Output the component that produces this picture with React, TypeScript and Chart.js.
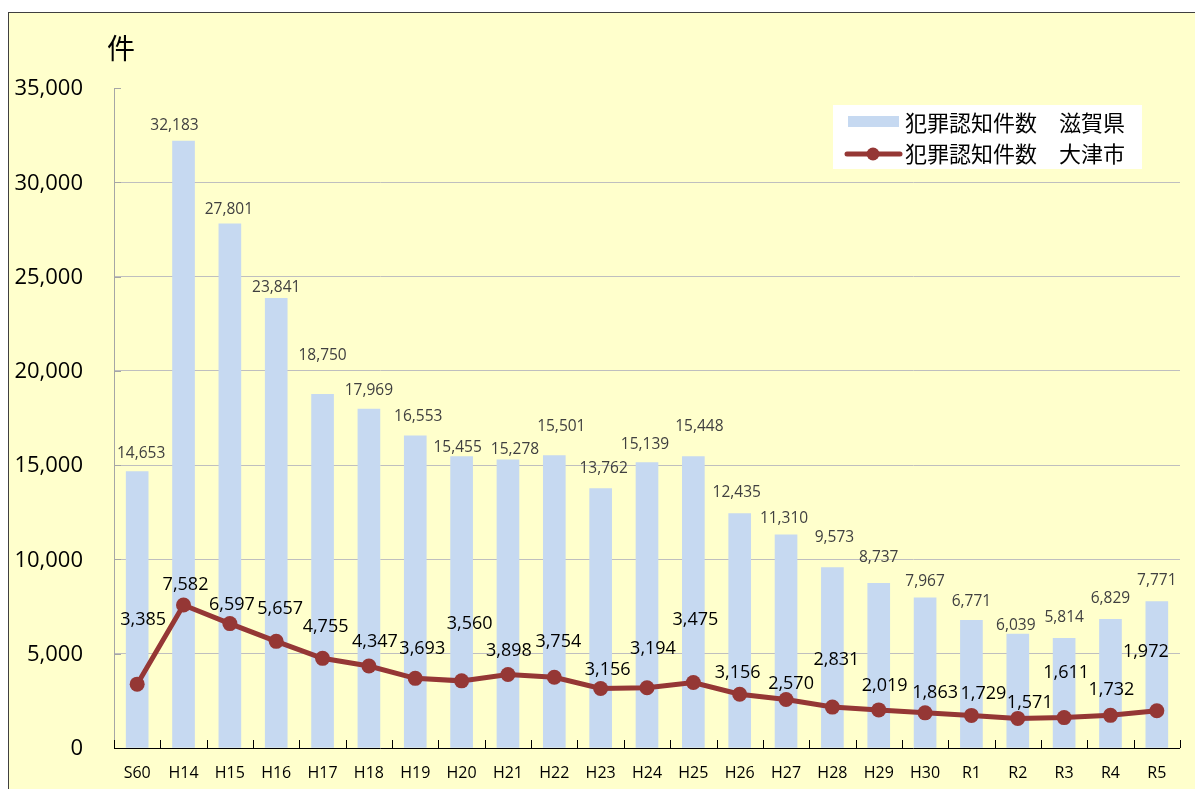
import React, { useEffect, useRef } from "react";
import { Chart, registerables } from "chart.js";
Chart.register(...registerables);

const categories = ["S60", "H14", "H15", "H16", "H17", "H18", "H19", "H20", "H21", "H22", "H23", "H24", "H25", "H26", "H27", "H28", "H29", "H30", "R1", "R2", "R3", "R4", "R5"];
const shigaValues = [14653, 32183, 27801, 23841, 18750, 17969, 16553, 15455, 15278, 15501, 13762, 15139, 15448, 12435, 11310, 9573, 8737, 7967, 6771, 6039, 5814, 6829, 7771];
const otsuValues = [3385, 7582, 6597, 5657, 4755, 4347, 3693, 3560, 3898, 3754, 3156, 3194, 3475, 2850, 2570, 2170, 2019, 1863, 1729, 1571, 1611, 1732, 1972];
const otsuLabelValues = [3385, 7582, 6597, 5657, 4755, 4347, 3693, 3560, 3898, 3754, 3156, 3194, 3475, 3156, 2570, 2831, 2019, 1863, 1729, 1571, 1611, 1732, 1972];
const yTicks = [0, 5000, 10000, 15000, 20000, 25000, 30000, 35000];
const shigaName = "犯罪認知件数　滋賀県";
const otsuName = "犯罪認知件数　大津市";
const unitLabel = "件";

// label placement offsets (px) relative to bar top / point
const barLabelOffsets = [[4, -19], [-9, -17], [-1, -15], [0, -12], [0, -40], [0, -20], [3, -20], [-4, -10], [7, -11], [7, -30], [3, -21], [-2, -19], [6, -31], [-3, -22], [-2, -17], [2, -31], [0, -27], [0, -17], [0, -20], [-2, -10], [0, -22], [0, -22], [0, -22]];
const lineLabelOffsets = [[6, -65], [2, -21], [2, -20], [4, -33], [3, -32], [6, -25], [7, -30], [8, -58], [1, -25], [4, -36], [7, -20], [6, -40], [2, -64], [-2, -22], [5, -17], [4, -48], [6, -25], [10, -21], [12, -23], [12, -17], [2, -46], [1, -26], [-11, -60]];

const BAR_COLOR = "#C6D9F1";
const LINE_COLOR = "#953735";
const NUM_FONT = "'Open Sans', 'Noto Sans', sans-serif";
const CJK_FONT = "'Noto Sans CJK JP', sans-serif";

const fmt = (v: number) => v.toLocaleString("en-US");

const decorPlugin = {
  id: "decor",
  afterDatasetsDraw(chart: any) {
    const { ctx, chartArea } = chart;
    const { left, right, top, bottom } = chartArea;
    const y = chart.scales.y;
    const x = chart.scales.x;
    ctx.save();
    ctx.lineWidth = 1;
    ctx.strokeStyle = "#A6A6A6";
    ctx.beginPath();
    ctx.moveTo(left + 0.5, top);
    ctx.lineTo(left + 0.5, bottom);
    yTicks.forEach((v) => {
      const py = Math.round(y.getPixelForValue(v)) + 0.5;
      ctx.moveTo(left, py);
      ctx.lineTo(left + 7, py);
    });
    ctx.stroke();
    ctx.strokeStyle = "#000000";
    ctx.beginPath();
    ctx.moveTo(left, Math.round(bottom) + 0.5);
    ctx.lineTo(right, Math.round(bottom) + 0.5);
    const n = categories.length;
    for (let i = 0; i <= n; i++) {
      let px: number;
      if (i === 0) px = left;
      else if (i === n) px = right;
      else px = (x.getPixelForValue(i - 1) + x.getPixelForValue(i)) / 2;
      px = Math.round(px) + 0.5;
      ctx.moveTo(px, bottom);
      ctx.lineTo(px, bottom - 8);
    }
    ctx.stroke();
    ctx.restore();
  },
  afterDraw(chart: any) {
    const { ctx, chartArea } = chart;
    const { left, top, bottom } = chartArea;
    const y = chart.scales.y;
    const x = chart.scales.x;
    ctx.save();
    // y tick labels
    ctx.fillStyle = "#000";
    ctx.font = `22px ${NUM_FONT}`;
    ctx.textAlign = "right";
    ctx.textBaseline = "middle";
    yTicks.forEach((v) => {
      ctx.fillText(fmt(v), left - 31, y.getPixelForValue(v) + 1);
    });
    // x labels
    ctx.font = `16px ${NUM_FONT}`;
    ctx.textAlign = "center";
    categories.forEach((c, i) => {
      ctx.fillText(c, x.getPixelForValue(i), bottom + 25);
    });
    // unit
    ctx.font = `28px ${CJK_FONT}`;
    ctx.fillText(unitLabel, left + 7, top - 40);
    // bar labels
    const barMeta = chart.getDatasetMeta(0);
    ctx.font = `15.5px ${NUM_FONT}`;
    ctx.fillStyle = "#404040";
    barMeta.data.forEach((el: any, i: number) => {
      const [dx, dy] = barLabelOffsets[i];
      ctx.fillText(fmt(shigaValues[i]), el.x + dx, el.y + dy + 1);
    });
    // line labels
    const lineMeta = chart.getDatasetMeta(1);
    ctx.font = `18px ${NUM_FONT}`;
    ctx.fillStyle = "#000";
    lineMeta.data.forEach((el: any, i: number) => {
      const [dx, dy] = lineLabelOffsets[i];
      ctx.fillText(fmt(otsuLabelValues[i]), el.x + dx, el.y + dy + 1);
    });
    // legend
    const lx = 824, ly = 92, lw = 309, lh = 64;
    ctx.fillStyle = "#FFFFFF";
    ctx.fillRect(lx, ly, lw, lh);
    ctx.fillStyle = BAR_COLOR;
    ctx.fillRect(839, 103, 51, 11);
    ctx.strokeStyle = LINE_COLOR;
    ctx.lineWidth = 5;
    ctx.lineCap = "round";
    ctx.beginPath();
    ctx.moveTo(838, 141);
    ctx.lineTo(891, 141);
    ctx.stroke();
    ctx.fillStyle = LINE_COLOR;
    ctx.beginPath();
    ctx.arc(864, 141, 6.5, 0, Math.PI * 2);
    ctx.fill();
    ctx.fillStyle = "#000";
    ctx.font = `22px ${CJK_FONT}`;
    ctx.textAlign = "left";
    ctx.fillText(shigaName, 896, 110);
    ctx.fillText(otsuName, 896, 141);
    ctx.restore();
  },
};

export default function App() {
  const ref = useRef<HTMLCanvasElement | null>(null);
  useEffect(() => {
    if (!ref.current) return;
    const chart = new Chart(ref.current, {
      type: "bar",
      data: {
        labels: categories,
        datasets: [
          {
            type: "bar",
            label: shigaName,
            data: shigaValues,
            backgroundColor: BAR_COLOR,
            borderWidth: 0,
            barThickness: 22,
            order: 2,
          },
          {
            type: "line",
            label: otsuName,
            data: otsuValues,
            borderColor: LINE_COLOR,
            backgroundColor: LINE_COLOR,
            borderWidth: 5,
            pointRadius: 7.5,
            pointBackgroundColor: LINE_COLOR,
            pointBorderWidth: 0,
            tension: 0,
            order: 1,
          } as any,
        ],
      },
      options: {
        responsive: false,
        animation: false,
        devicePixelRatio: 1,
        layout: { padding: { left: 105, top: 75, right: 23, bottom: 45 } },
        plugins: { legend: { display: false }, tooltip: { enabled: false } },
        scales: {
          x: {
            type: "category",
            offset: true,
            grid: { display: false, drawTicks: false },
            border: { display: false },
            ticks: { display: false },
          },
          y: {
            min: 0,
            max: 35000,
            ticks: { display: false, stepSize: 5000 },
            grid: {
              drawTicks: false,
              color: (c: any) => (c.tick && c.tick.value === 35000 ? "rgba(0,0,0,0)" : "#BFBFBF"),
              lineWidth: 1,
            },
            border: { display: false },
          },
        },
      },
      plugins: [decorPlugin],
    });
    return () => chart.destroy();
  }, []);
  return (
    <div
      style={{
        position: "relative",
        top: 4,
        width: 1194,
        height: 780,
        borderLeft: "1px solid #404040",
        borderTop: "1px solid #404040",
        background: "#FFFFCC",
      }}
    >
      <canvas ref={ref} width={1194} height={780} style={{ display: "block" }} />
    </div>
  );
}
